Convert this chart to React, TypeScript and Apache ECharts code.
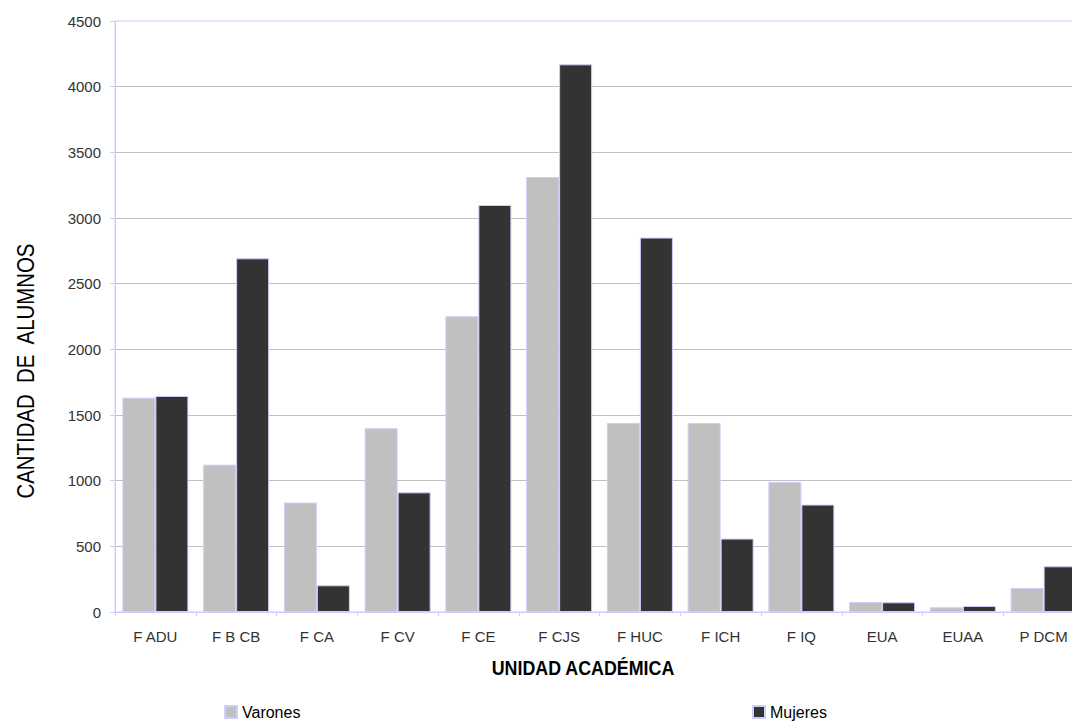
import React, { useEffect, useRef } from "react";
import * as echarts from "echarts";

const categories = ["F ADU", "F B CB", "F CA", "F CV", "F CE", "F CJS", "F HUC", "F ICH", "F IQ", "EUA", "EUAA", "P DCM"];
const varones = [1632, 1122, 833, 1399, 2252, 3312, 1439, 1439, 990, 76, 36, 183];
const mujeres = [1645, 2693, 203, 911, 3099, 4170, 2851, 559, 818, 74, 46, 348];
const yTicks = { min: 0, max: 4500, interval: 500 };

const LAV = "#ccccff";
const FONT = "Arial, 'Liberation Sans', sans-serif";

export default function App() {
  const ref = useRef<HTMLDivElement>(null);
  useEffect(() => {
    const chart = echarts.init(ref.current!, null, { renderer: "svg" });
    chart.setOption({
      animation: false,
      backgroundColor: "#ffffff",
      grid: {
        left: 115,
        top: 21,
        right: 6,
        bottom: 110,
        show: true,
        borderColor: LAV,
        borderWidth: 1,
        backgroundColor: "transparent",
      },
      legend: [
        {
          data: [{ name: "Varones", icon: "rect" }],
          left: 224,
          top: 704,
          padding: 0,
          itemWidth: 12,
          itemHeight: 12,
          itemGap: 4,
          textStyle: { fontFamily: FONT, fontSize: 16, color: "#000" },
        },
        {
          data: [{ name: "Mujeres", icon: "rect" }],
          left: 752,
          top: 704,
          padding: 0,
          itemWidth: 12,
          itemHeight: 12,
          itemGap: 4,
          textStyle: { fontFamily: FONT, fontSize: 16, color: "#000" },
        },
      ],
      xAxis: {
        type: "category",
        data: categories,
        axisLine: { lineStyle: { color: LAV, width: 1 } },
        axisTick: { show: true, length: 4, lineStyle: { color: LAV } },
        axisLabel: { color: "#333", fontSize: 15, fontFamily: FONT, margin: 17 },
        splitLine: { show: false },
      },
      yAxis: {
        type: "value",
        min: yTicks.min,
        max: yTicks.max,
        interval: yTicks.interval,
        axisLine: { show: true, lineStyle: { color: LAV, width: 1 } },
        axisTick: { show: true, length: 5, lineStyle: { color: LAV } },
        axisLabel: {
          color: "#333",
          fontSize: 15,
          fontFamily: FONT,
          margin: 14,
          formatter: (v: number) => String(v),
        },
        splitLine: { show: true, showMinLine: false, showMaxLine: false, lineStyle: { color: "#c0c0c0", width: 1 } },
      },
      graphic: [
        {
          type: "text",
          x: 26,
          y: 371,
          rotation: Math.PI / 2,
          scaleX: 0.85,
          style: {
            text: "CANTIDAD  DE  ALUMNOS",
            fontSize: 24,
            fontFamily: FONT,
            fill: "#000",
            align: "center",
            verticalAlign: "middle",
          },
        },
        {
          type: "text",
          x: 583,
          y: 667,
          scaleX: 0.85,
          style: {
            text: "UNIDAD ACADÉMICA",
            fontSize: 21,
            fontWeight: "bold",
            fontFamily: FONT,
            fill: "#000",
            align: "center",
            verticalAlign: "middle",
          },
        },
      ],
      series: [
        {
          name: "Varones",
          type: "bar",
          data: varones,
          barWidth: 33,
          barGap: "0%",
          itemStyle: { color: "#c0c0c0", borderColor: LAV, borderWidth: 1 },
        },
        {
          name: "Mujeres",
          type: "bar",
          data: mujeres,
          barWidth: 33,
          barGap: "0%",
          itemStyle: { color: "#333333", borderColor: LAV, borderWidth: 1 },
        },
      ],
    });
    return () => chart.dispose();
  }, []);
  return (
    <div
      ref={ref}
      style={{ position: "fixed", left: 0, top: 0, width: 1090, height: 722, background: "#fff" }}
    />
  );
}
